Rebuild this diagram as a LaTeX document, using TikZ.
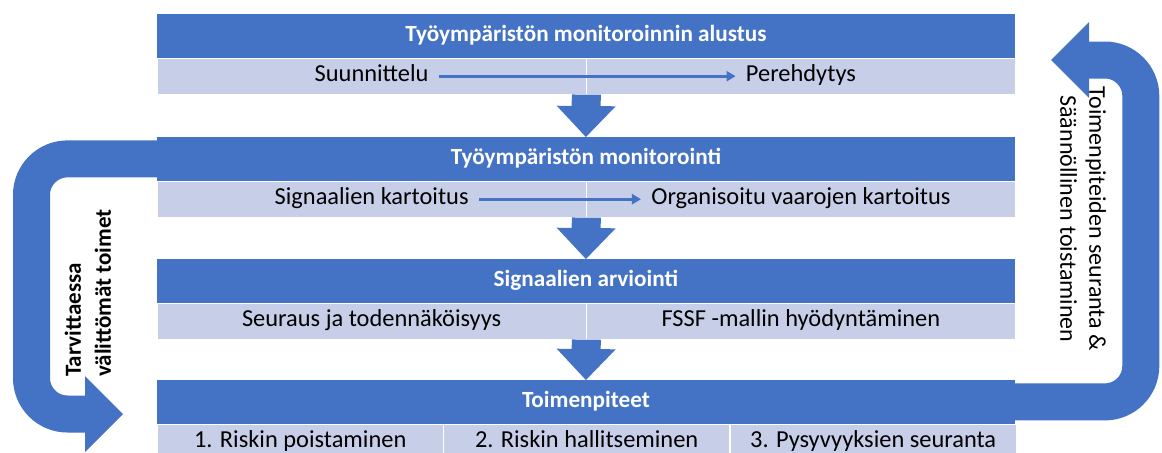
\documentclass[tikz,border=0pt]{standalone}
\usepackage{fontspec}
\setmainfont{Carlito}
\usepackage{tikz}
\usetikzlibrary{arrows.meta}
\usetikzlibrary{positioning}
\definecolor{monBlue}{HTML}{4472C4}
\definecolor{monLight}{HTML}{C7CFE8}

\begin{document}
\begin{tikzpicture}[x=0.5pt,y=-0.5pt]
\tikzset{HeadBar/.style={
  fill=monBlue,
  draw=monBlue,
  anchor=north west,
  minimum width=428.5pt,
  minimum height=21.5pt,
  inner sep=0pt,
  text=white,
  text height=8pt,
  text depth=2.5pt,
  font=\fontsize{11.6}{14}\selectfont\bfseries,
}}
\tikzset{SubCell/.style={
  fill=monLight,
  draw=white,
  line width=0.4pt,
  minimum height=18pt,
  inner sep=0pt,
}}
\tikzset{HalfCell/.style={SubCell, minimum width=214.25pt}}
\tikzset{ThirdCell/.style={SubCell, minimum width=142.83pt}}
\tikzset{SubText/.style={
  inner sep=5pt,
  text height=8pt,
  text depth=2.5pt,
  font=\fontsize{12.2}{14}\selectfont,
}}
\tikzset{RowArrow/.style={draw=monBlue, line width=1.5pt, -{Triangle[length=4.5pt,width=5pt]}}}
\tikzset{DownArrow/.style={draw=monBlue, line width=14.5pt, -{Triangle[length=15.5pt,width=29.5pt,line width=0pt]}}}
\tikzset{LoopArrow/.style={draw=monBlue, line width=18.5pt, rounded corners=18pt,
  -{Triangle[length=19pt,width=38pt,line width=0pt]}}}
\tikzset{SideText/.style={inner sep=0pt, align=center}}

\useasboundingbox (0,0) rectangle (1162,452);
\clip (0,0) rectangle (1162,452);

% first block
\node[HeadBar] (h1) at (157,14) {Työympäristön monitoroinnin alustus};
\node[HalfCell, below right=0pt and 0pt of h1.south west] (c11) {};
\node[HalfCell, right=0pt of c11] (c12) {};
\node[SubText] (suun) at (c11) {Suunnittelu};
\node[SubText] (pere) at (c12) {Perehdytys};
\draw[RowArrow] (suun.east) -- (pere.west);

% second block
\node[HeadBar] (h2) at (157,137) {Työympäristön monitorointi};
\node[HalfCell, below right=0pt and 0pt of h2.south west] (c21) {};
\node[HalfCell, right=0pt of c21] (c22) {};
\node[SubText] (kart) at (c21) {Signaalien kartoitus};
\node[SubText] (vaar) at (c22) {Organisoitu vaarojen kartoitus};
\draw[RowArrow] (kart.east) -- (vaar.west);

% third block
\node[HeadBar] (h3) at (157,259) {Signaalien arviointi};
\node[HalfCell, below right=0pt and 0pt of h3.south west] (c31) {};
\node[HalfCell, right=0pt of c31] (c32) {};
\node[SubText] (seur) at (c31) {Seuraus ja todennäköisyys};
\node[SubText] (fssf) at (c32) {FSSF -mallin hyödyntäminen};

% fourth block
\node[HeadBar] (h4) at (157,380) {Toimenpiteet};
\node[ThirdCell, below right=0pt and 0pt of h4.south west] (c41) {};
\node[ThirdCell, right=0pt of c41] (c42) {};
\node[ThirdCell, right=0pt of c42] (c43) {};
\node[SubText] (pois) at (c41) {1. Riskin poistaminen};
\node[SubText] (hall) at (c42) {2. Riskin hallitseminen};
\node[SubText] (pysy) at (c43) {3. Pysyvyyksien seuranta};

\draw[DownArrow] (c12.south west) -- (h2.north);
\draw[DownArrow] (c22.south west) -- (h3.north);
\draw[DownArrow] (c32.south west) -- (h4.north);

% side loops
\coordinate (ltip) at (123,414);
\coordinate (rtip) at (1051,60);
\draw[LoopArrow] (h2.west) -- ++(-125.5,0) |- (ltip);
\draw[LoopArrow] (h4.east) -- ++(126,0) |- (rtip);

\node[SideText, align=left, rotate=90, font=\fontsize{11.5}{15}\selectfont\bfseries]
  (akut) at (88,293) {Tarvittaessa\\välittömät toimet};
\node[SideText, rotate=-90, font=\fontsize{12}{14.5}\selectfont]
  (toisto) at (1083,219) {Toimenpiteiden seuranta \&\\Säännöllinen toistaminen};
\end{tikzpicture}
\end{document}
